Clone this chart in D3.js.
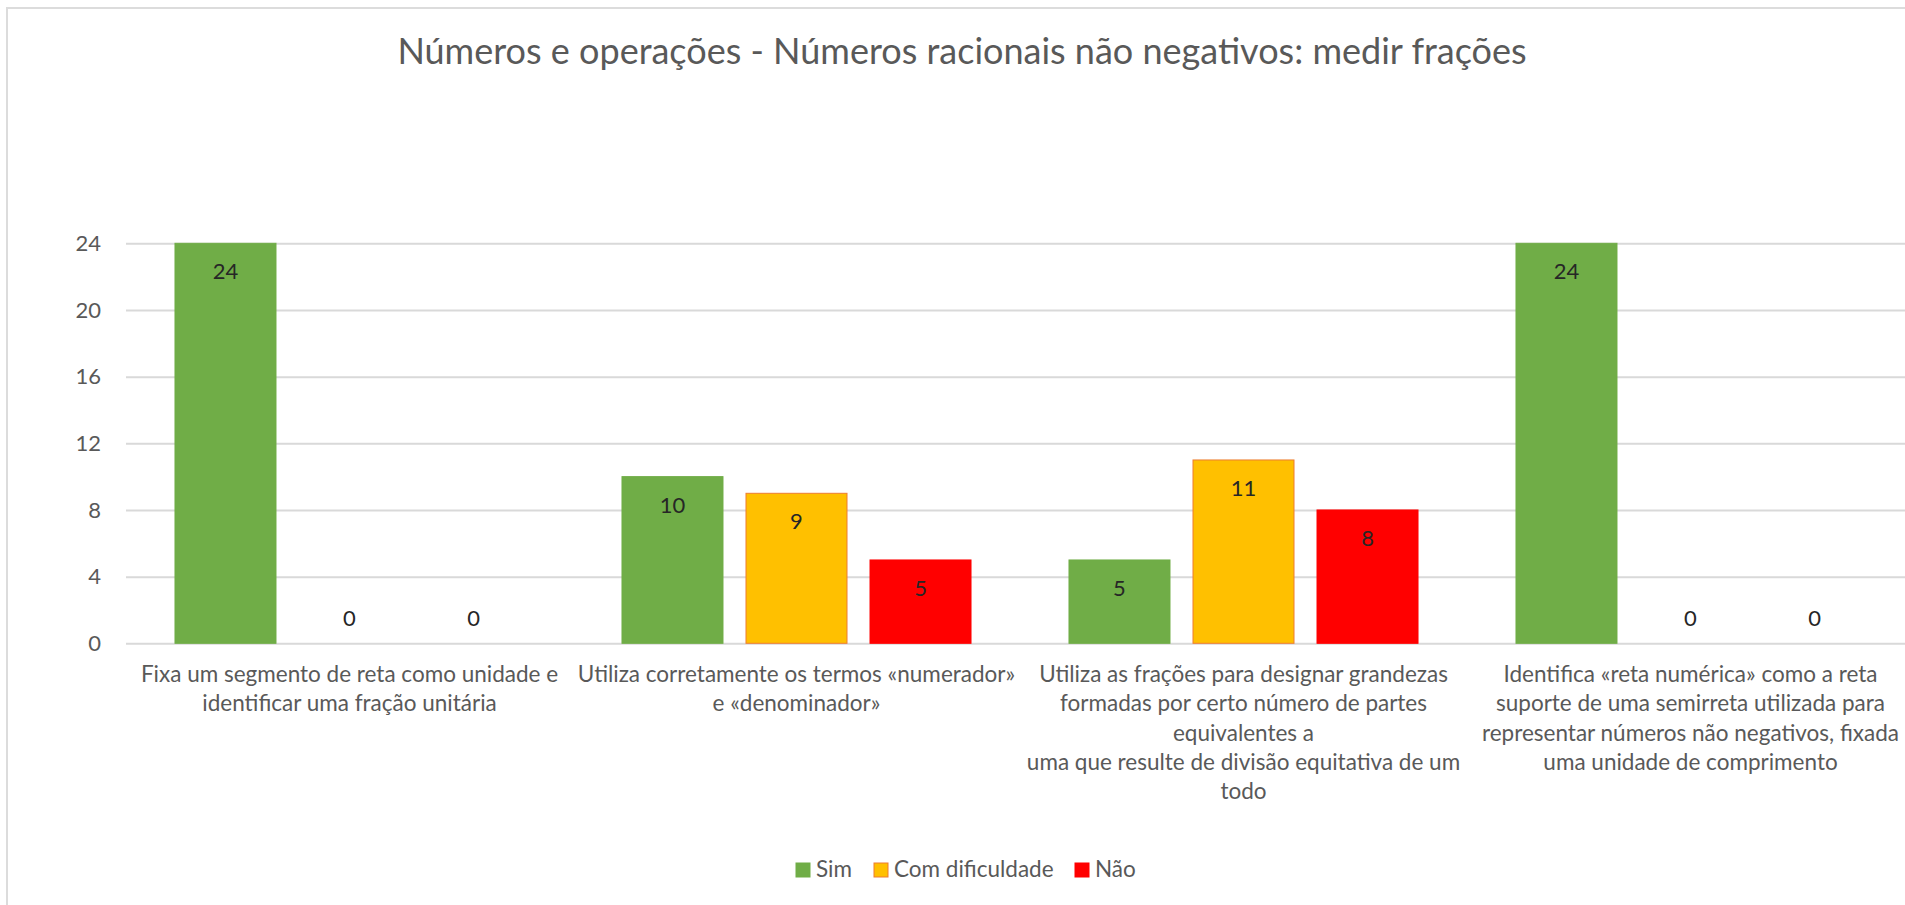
<!DOCTYPE html>
<html lang="pt">
<head>
<meta charset="UTF-8">
<title>Números racionais não negativos: medir frações</title>
<script src="https://cdn.jsdelivr.net/npm/d3@7"></script>
<style>
  body { margin: 0; background: #fff; }
  text { font-family: Lato, "Open Sans", sans-serif; }
</style>
</head>
<body>
<script>

var width = 1905,
    height = 905

// chart values
var categories = [
  "Fixa um segmento de reta como unidade e\nidentificar uma fração unitária",
  "Utiliza corretamente os termos «numerador»\ne «denominador»",
  "Utiliza as frações para designar grandezas\nformadas por certo número de partes\nequivalentes a\numa que resulte de divisão equitativa de um\ntodo",
  "Identifica «reta numérica» como a reta\nsuporte de uma semirreta utilizada para\nrepresentar números não negativos, fixada\numa unidade de comprimento"
]
var seriesNames = ["Sim", "Com dificuldade", "Não"]
var sim = [24, 10, 5, 24]
var comDificuldade = [0, 9, 11, 0]
var nao = [0, 5, 8, 0]
var yTicks = [0, 4, 8, 12, 16, 20, 24]

var fills = ["#70AD47", "#FFC000", "#FF0000"]
var strokes = ["#70AD47", "#ED7D31", "#FF0000"]
var seriesValues = [sim, comDificuldade, nao]

var plotLeft = 126, plotRight = 1914, plotTop = 243.3, plotBottom = 643.3

var svg = d3.select("body").append("svg")
    .attr("width", width)
    .attr("height", height)

// chart area border (cut off at right and bottom)
svg.append("path")
    .attr("d", "M7," + height + "V8H" + width)
    .attr("fill", "none")
    .attr("stroke", "#dcdcdc")
    .attr("stroke-width", 2)

svg.append("text")
    .attr("x", 962)
    .attr("y", 64)
    .attr("text-anchor", "middle")
    .style("font-size", "36px")
    .style("fill", "#595959")
    .text("Números e operações - Números racionais não negativos: medir frações")

var x0 = d3.scaleBand().domain(d3.range(categories.length)).range([plotLeft, plotRight])
var x1 = d3.scaleBand().domain(d3.range(seriesNames.length)).range([0, x0.bandwidth()])
    .paddingInner(0.1855).paddingOuter(0.395)
var y = d3.scaleLinear().domain([0, 24]).range([plotBottom, plotTop])

// gridlines + y labels
var yAxis = svg.append("g")
    .attr("transform", "translate(" + plotLeft + ",0)")
    .call(d3.axisLeft(y).tickValues(yTicks).tickSize(-(plotRight - plotLeft)).tickPadding(25))
yAxis.select(".domain").remove()
yAxis.selectAll(".tick line").attr("stroke", "#d9d9d9").attr("stroke-width", 2)
yAxis.selectAll(".tick text")
    .style("font-size", "22px")
    .style("fill", "#595959")

var data = []
categories.forEach(function(c, i) {
  seriesValues.forEach(function(vals, s) {
    data.push({cat: i, s: s, value: vals[i]})
  })
})

var bars = svg.append("g")
bars.selectAll("rect").data(data.filter(function(d) { return d.value > 0 })).enter()
    .append("rect")
    .attr("x", function(d) { return x0(d.cat) + x1(d.s) })
    .attr("y", function(d) { return y(d.value) })
    .attr("width", x1.bandwidth())
    .attr("height", function(d) { return y(0) - y(d.value) })
    .attr("fill", function(d) { return fills[d.s] })
    .attr("stroke", function(d) { return strokes[d.s] })
    .attr("stroke-width", 1)

// data labels: inside end, or above the axis for zero values
bars.selectAll("text").data(data).enter()
    .append("text")
    .attr("x", function(d) { return x0(d.cat) + x1(d.s) + x1.bandwidth() / 2 })
    .attr("y", function(d) { return d.value > 0 ? y(d.value) + 36 : y(0) - 17 })
    .attr("text-anchor", "middle")
    .style("font-size", "22px")
    .style("fill", "#262626")
    .text(function(d) { return d.value })

// category labels
var catLabels = svg.append("g")
catLabels.selectAll("text").data(categories).enter()
    .append("text")
    .attr("text-anchor", "middle")
    .style("font-size", "22.5px")
    .style("fill", "#595959")
    .each(function(c, i) {
      var t = d3.select(this)
      c.split("\n").forEach(function(line, k) {
        t.append("tspan")
            .attr("x", x0(i) + x0.bandwidth() / 2)
            .attr("y", 682 + k * 29.3)
            .text(line)
      })
    })

// legend
var legendX = [796, 874, 1075]
var legend = svg.append("g")
var item = legend.selectAll("g").data(seriesNames).enter()
    .append("g")
    .attr("transform", function(d, i) { return "translate(" + legendX[i] + ",863)" })
item.append("rect")
    .attr("width", 14).attr("height", 14)
    .attr("fill", function(d, i) { return fills[i] })
    .attr("stroke", function(d, i) { return strokes[i] })
item.append("text")
    .attr("x", 20)
    .attr("y", 14)
    .style("font-size", "22.5px")
    .style("fill", "#595959")
    .text(function(d) { return d })

</script>
</body>
</html>
